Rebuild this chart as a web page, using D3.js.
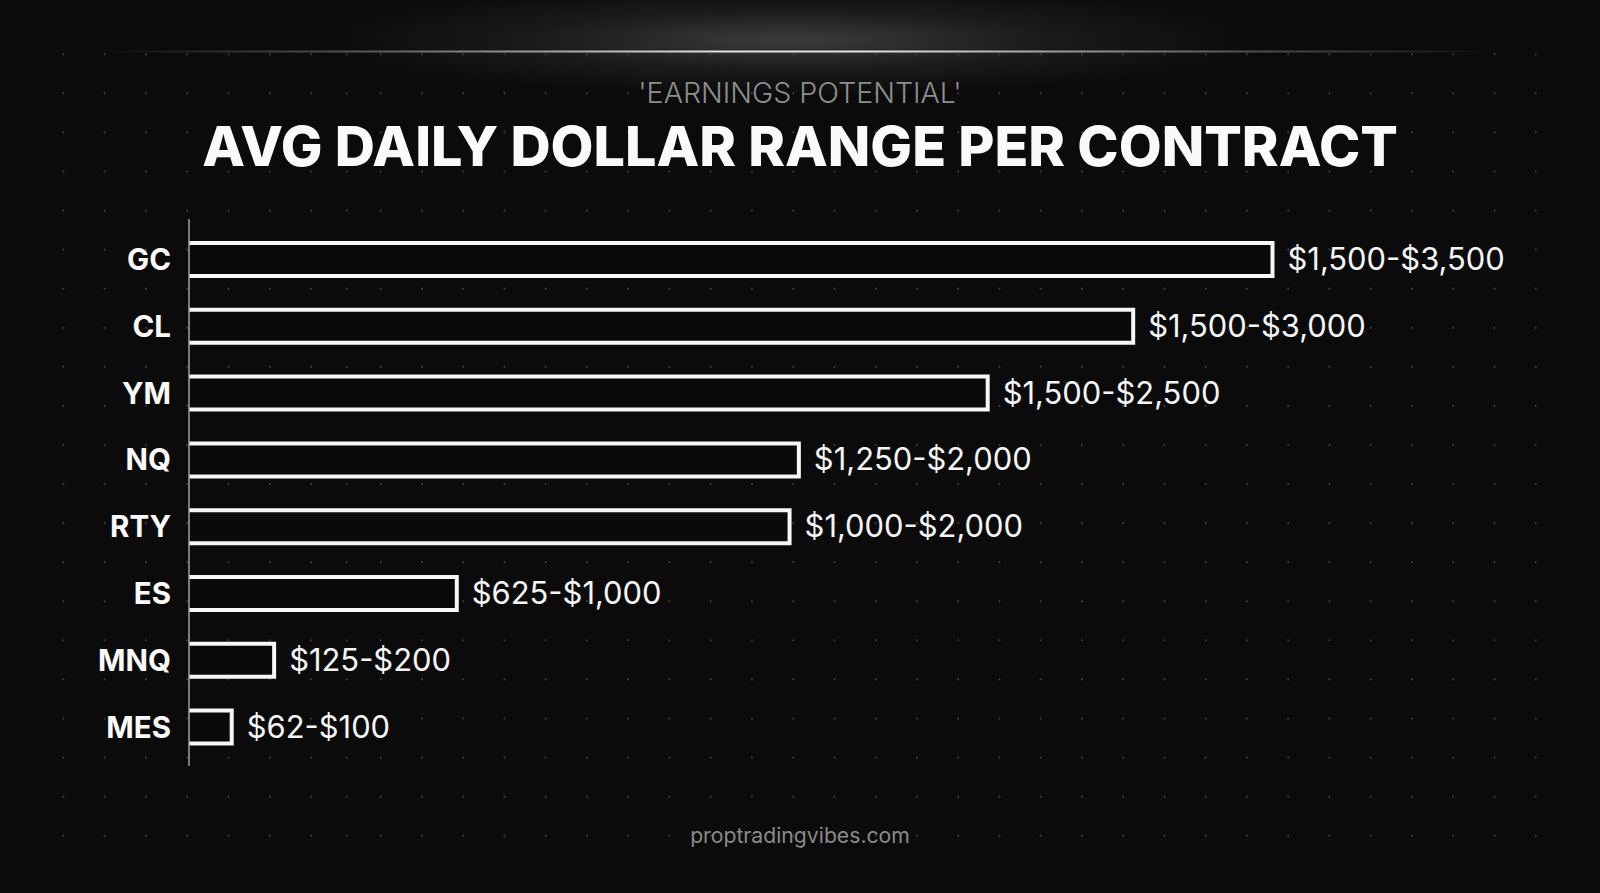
<!DOCTYPE html>
<html>
<head>
<meta charset="utf-8">
<script src="https://cdn.jsdelivr.net/npm/d3@7"></script>
<style>
  html, body { margin: 0; padding: 0; background: #0b0b0b; overflow: hidden; }
  svg { display: block; }
</style>
</head>
<body>
<div id="chart"></div>
<script>
// --- Data ---
const categories = ['GC', 'CL', 'YM', 'NQ', 'RTY', 'ES', 'MNQ', 'MES'];
const rangeLabels = ['$1,500-$3,500', '$1,500-$3,000', '$1,500-$2,500', '$1,250-$2,000',
                     '$1,000-$2,000', '$625-$1,000', '$125-$200', '$62-$100'];
// bar lengths (same units as the top of the GC range)
const barValues = [3500, 3050, 2580, 1970, 1940, 865, 275, 138];

const subtitle = "'EARNINGS POTENTIAL'";
const title = 'AVG DAILY DOLLAR RANGE PER CONTRACT';
const footer = 'proptradingvibes.com';

const data = categories.map((c, i) => ({ cat: c, value: barValues[i], label: rangeLabels[i] }));

// --- Setup ---
const W = 1600, H = 893;
const svg = d3.select('#chart').append('svg').attr('width', W).attr('height', H);
const defs = svg.append('defs');

svg.append('rect').attr('width', W).attr('height', H).attr('fill', '#0b0b0b');

// top glow
const glow = defs.append('radialGradient').attr('id', 'glow');
glow.append('stop').attr('offset', '0%').attr('stop-color', '#fff').attr('stop-opacity', 0.2);
glow.append('stop').attr('offset', '55%').attr('stop-color', '#fff').attr('stop-opacity', 0.06);
glow.append('stop').attr('offset', '100%').attr('stop-color', '#fff').attr('stop-opacity', 0);
svg.append('ellipse').attr('cx', 790).attr('cy', 40).attr('rx', 480).attr('ry', 56).attr('fill', 'url(#glow)');

const lineGrad = defs.append('linearGradient').attr('id', 'lineGrad')
  .attr('gradientUnits', 'userSpaceOnUse').attr('x1', 100).attr('x2', 1495);
[[0, 0], [0.2, 0.35], [0.45, 0.95], [0.55, 0.95], [0.8, 0.35], [1, 0]].forEach(([o, a]) =>
  lineGrad.append('stop').attr('offset', o).attr('stop-color', '#ececec').attr('stop-opacity', a));

const blur = defs.append('filter').attr('id', 'blur').attr('x', '-10%').attr('y', '-500%')
  .attr('width', '120%').attr('height', '1100%');
blur.append('feGaussianBlur').attr('stdDeviation', 3);

svg.append('line').attr('x1', 100).attr('x2', 1495).attr('y1', 51.5).attr('y2', 51.5)
  .attr('stroke', 'url(#lineGrad)').attr('stroke-width', 6).attr('opacity', 0.55).attr('filter', 'url(#blur)');
svg.append('line').attr('x1', 100).attr('x2', 1495).attr('y1', 51.5).attr('y2', 51.5)
  .attr('stroke', 'url(#lineGrad)').attr('stroke-width', 2.2);

// dot grid
const dotXs = d3.range(7).map(i => 63.3 + 41.3 * i).concat([346.7])
  .concat(d3.range(29).map(i => 380.7 + 41.25 * i));
const dotYs = d3.range(21).map(i => 54.3 + 39.07 * i);
const dots = [];
dotYs.forEach(y => dotXs.forEach(x => dots.push([x, y])));
svg.append('g').selectAll('circle').data(dots).join('circle')
  .attr('cx', d => d[0]).attr('cy', d => d[1]).attr('r', 1.1).attr('fill', '#3c3c3c');

// --- Titles ---
svg.append('text').attr('x', 800).attr('y', 103).attr('text-anchor', 'middle')
  .attr('font-family', 'Inter').attr('font-weight', 300).attr('font-size', 28.6)
  .attr('fill', '#8e8e8e').text(subtitle);

svg.append('text').attr('x', 800).attr('y', 166).attr('text-anchor', 'middle')
  .attr('font-family', 'Inter').attr('font-weight', 800).attr('font-size', 55.6)
  .attr('fill', '#fafafa').text(title);

// --- Scales ---
const x0 = 189;
const x = d3.scaleLinear().domain([0, 3500]).range([x0, 1272.5]);
const y = d3.scaleBand().domain(categories).range([209.2, 777.4]).padding(0.506);

// --- Bars (open on the axis side) ---
const g = svg.append('g');
g.selectAll('.bar').data(data).join('path')
  .attr('class', 'bar')
  .attr('d', d => {
    const p = d3.path();
    p.moveTo(x(0), y(d.cat));
    p.lineTo(x(d.value), y(d.cat));
    p.lineTo(x(d.value), y(d.cat) + y.bandwidth());
    p.lineTo(x(0), y(d.cat) + y.bandwidth());
    return p.toString();
  })
  .attr('fill', '#0a0a0a').attr('stroke', '#f7f7f7').attr('stroke-width', 4)
  .attr('stroke-linejoin', 'miter');

// axis line
svg.append('line').attr('x1', x0).attr('x2', x0).attr('y1', 219).attr('y2', 766)
  .attr('stroke', '#a0a0a0').attr('stroke-width', 1.5);

// category labels
g.selectAll('.cat').data(data).join('text')
  .attr('class', 'cat')
  .attr('x', 171).attr('y', d => y(d.cat) + y.bandwidth() / 2 + 10.5)
  .attr('text-anchor', 'end')
  .attr('font-family', 'Inter').attr('font-weight', 700).attr('font-size', 29.5)
  .attr('fill', '#fafafa').text(d => d.cat);

// value labels
g.selectAll('.val').data(data).join('text')
  .attr('class', 'val')
  .attr('x', d => x(d.value) + 15).attr('y', d => y(d.cat) + y.bandwidth() / 2 + 10.5)
  .attr('font-family', 'Inter').attr('font-weight', 400).attr('font-size', 30.9)
  .attr('fill', '#f5f5f5').text(d => d.label);

// footer
svg.append('text').attr('x', 800).attr('y', 843).attr('text-anchor', 'middle')
  .attr('font-family', 'Inter').attr('font-weight', 400).attr('font-size', 21.2)
  .attr('fill', '#8a8a8a').text(footer);
</script>
</body>
</html>
